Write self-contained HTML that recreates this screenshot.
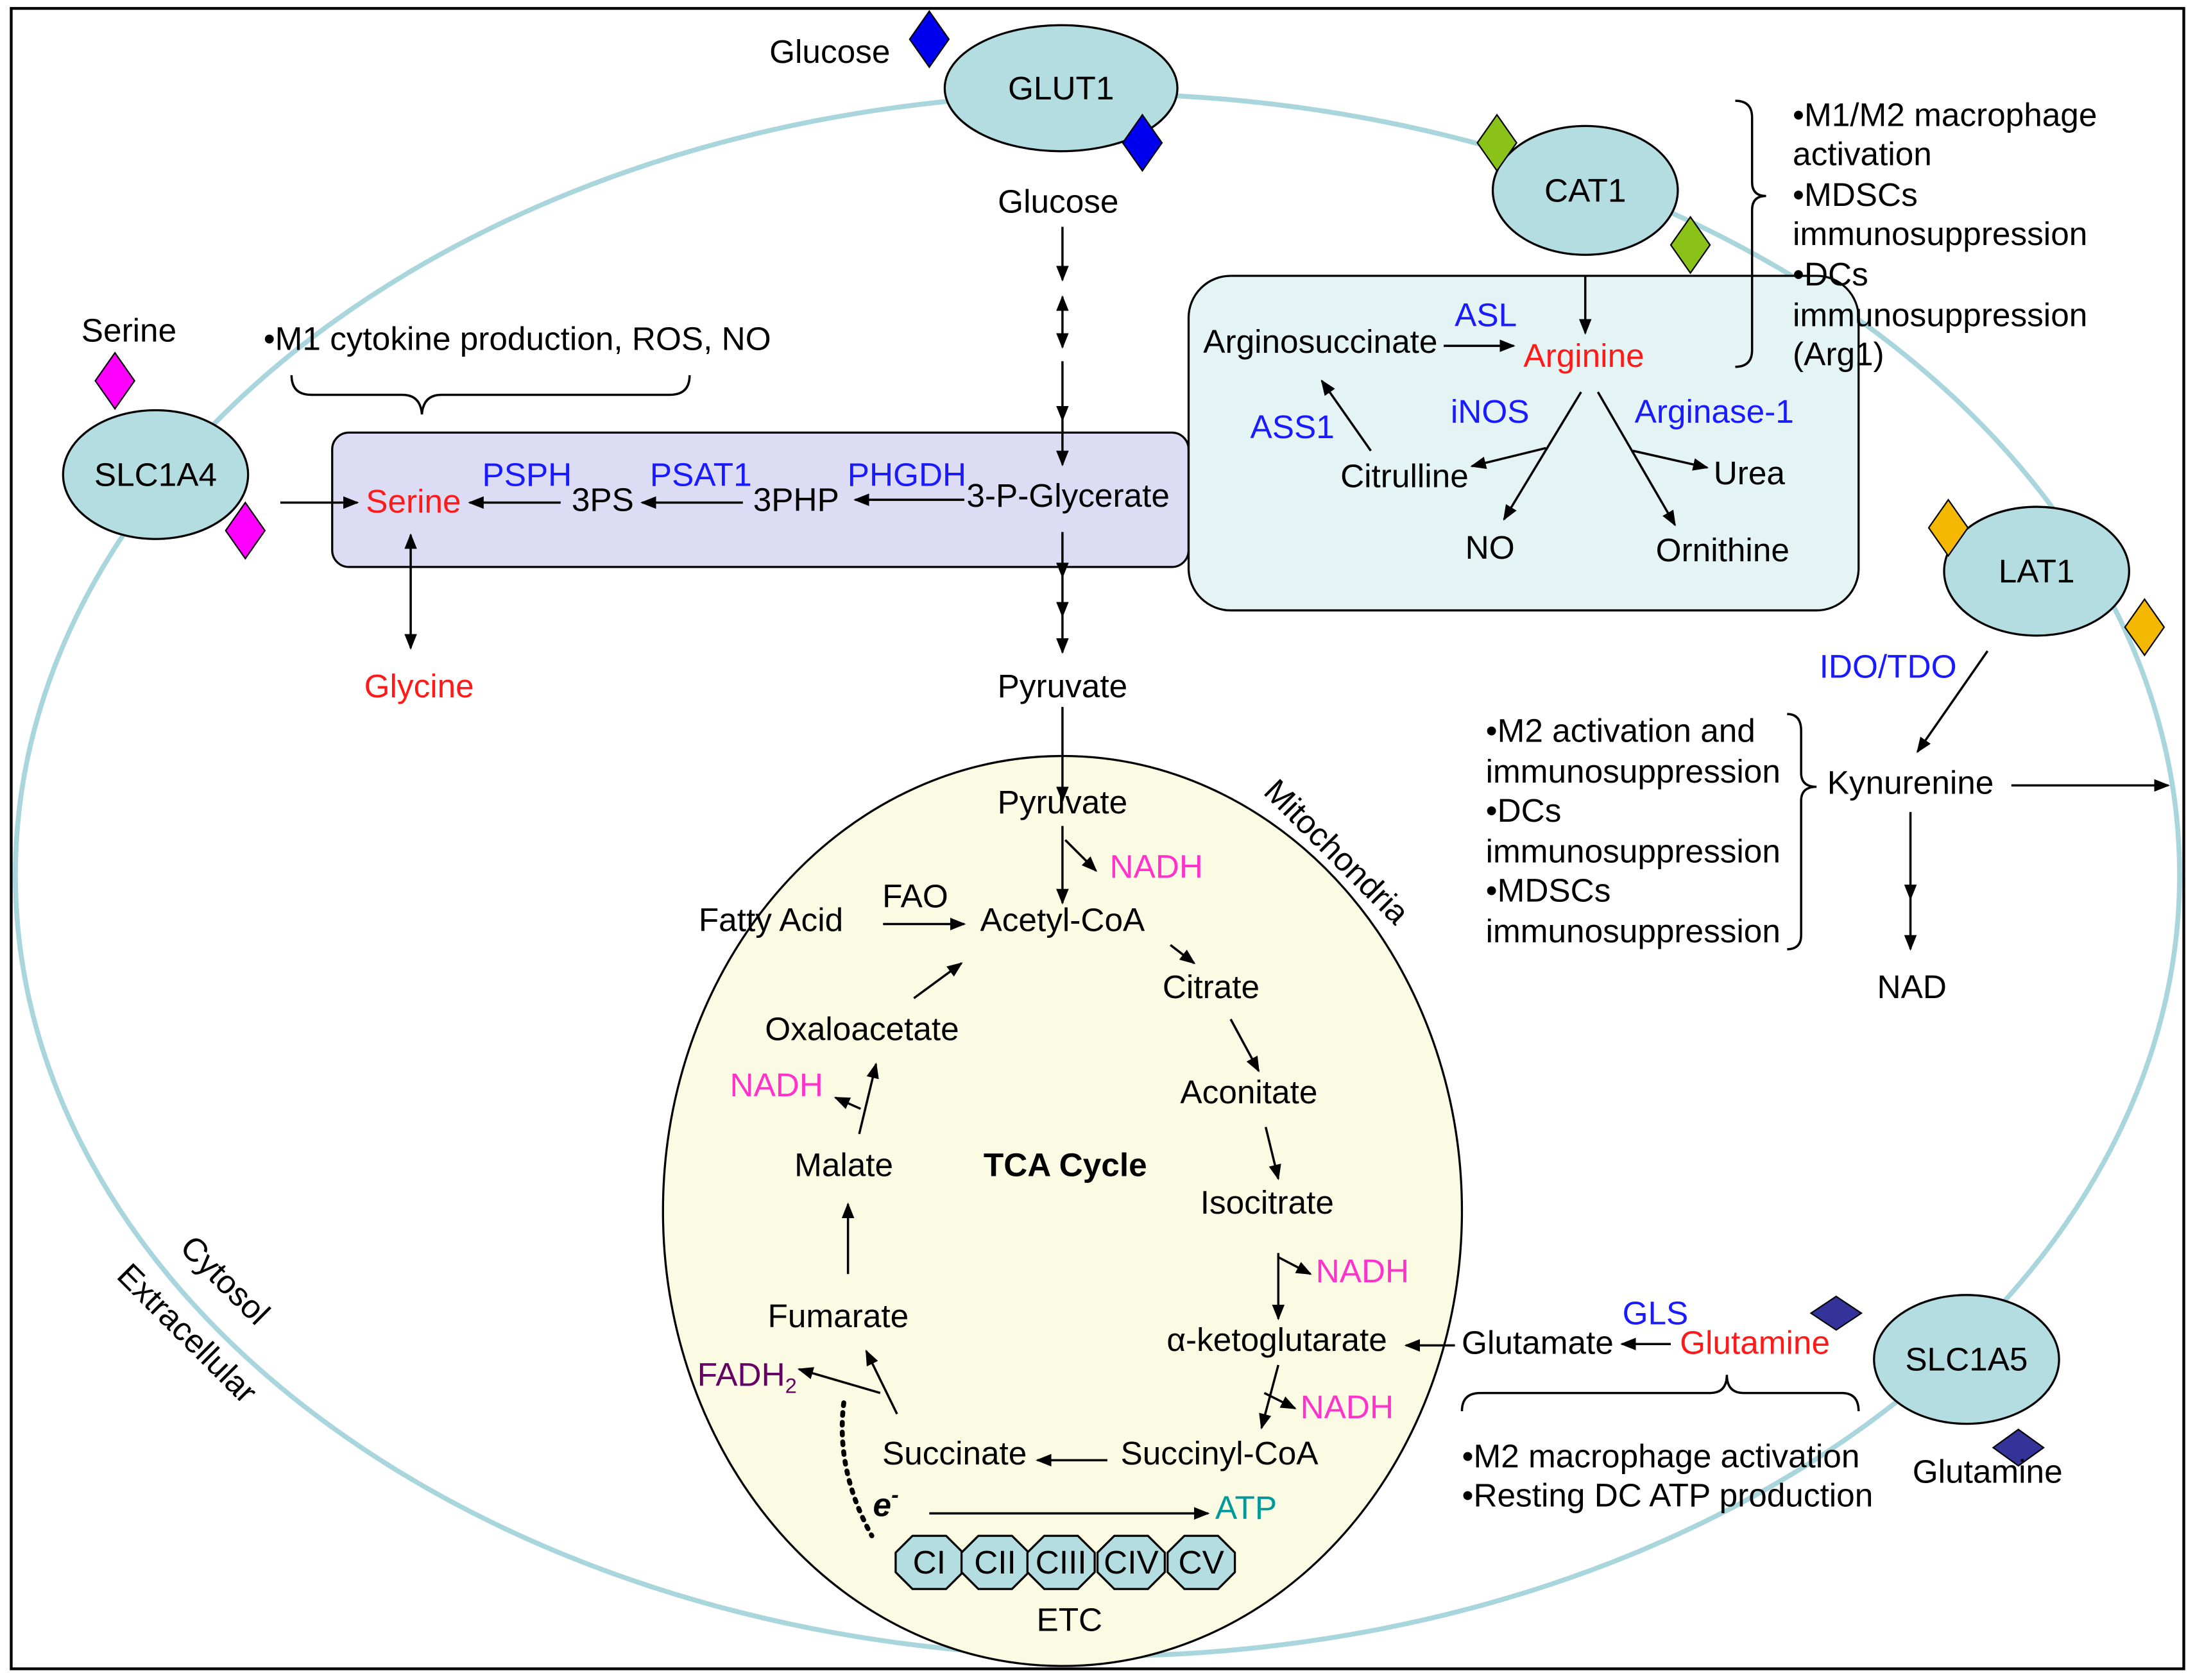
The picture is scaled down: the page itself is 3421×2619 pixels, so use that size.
<!DOCTYPE html>
<html><head><meta charset="utf-8"><style>
html,body{margin:0;padding:0;background:#fff}
svg{display:block}
text{font-family:"Liberation Sans",Arial,sans-serif;font-size:23.5px;fill:#000}
.c{text-anchor:middle}
.b{fill:#1a1aff}.r{fill:#ff1a1a}.m{fill:#ff33cc}
</style></head><body>
<svg width="3421" height="2619" viewBox="0 0 1566 1200" preserveAspectRatio="none" xmlns="http://www.w3.org/2000/svg">
<defs>
<marker id="a" viewBox="0 0 10 10" refX="9" refY="5" markerWidth="7" markerHeight="7" orient="auto-start-reverse"><path d="M0,1 L10,5 L0,9 z" fill="#000"/></marker>
</defs>
<rect x="0" y="0" width="1566" height="1200" fill="#fff"/>
<rect x="8" y="6" width="1550" height="1186" fill="none" stroke="#000" stroke-width="2"/>
<ellipse cx="783" cy="625" rx="772" ry="558" fill="none" stroke="#a8d6dc" stroke-width="3.5"/>

<rect x="237" y="309" width="611" height="96" rx="12" fill="#dcdcf5" stroke="#000" stroke-width="1.5"/>
<rect x="848" y="197" width="478" height="239" rx="30" fill="#e4f3f3" stroke="#000" stroke-width="1.5"/>
<ellipse cx="758" cy="865" rx="285" ry="325" fill="#fbfbe3" stroke="#000" stroke-width="1.5"/>

<g fill="#b3dde0" stroke="#000" stroke-width="1.5">
<ellipse cx="757" cy="63" rx="83" ry="45"/>
<ellipse cx="1131" cy="136" rx="66" ry="46"/>
<ellipse cx="111" cy="339" rx="66" ry="46"/>
<ellipse cx="1453" cy="408" rx="66" ry="46"/>
<ellipse cx="1403" cy="971" rx="66" ry="46"/>
</g>
<g stroke="#000" stroke-width="1">
<path d="M663,8 L677,28 L663,48 L649,28z" fill="#0000ee"/>
<path d="M815,82 L829,102 L815,122 L801,102z" fill="#0000ee"/>
<path d="M1068,82 L1082,102 L1068,122 L1054,102z" fill="#8bc21a"/>
<path d="M1206,155 L1220,175 L1206,195 L1192,175z" fill="#8bc21a"/>
<path d="M82,252 L96,272 L82,292 L68,272z" fill="#ff00ff"/>
<path d="M175,359 L189,379 L175,399 L161,379z" fill="#ff00ff"/>
<path d="M1390,357 L1404,377 L1390,397 L1376,377z" fill="#f5b800"/>
<path d="M1530,428 L1544,448 L1530,468 L1516,448z" fill="#f5b800"/>
<path d="M1310,926 L1328,938 L1310,950 L1292,938z" fill="#333399"/>
<path d="M1440,1021 L1458,1034 L1440,1047 L1422,1034z" fill="#333399"/>
</g>
<text class="c" x="757" y="71">GLUT1</text>
<text class="c" x="1131" y="144">CAT1</text>
<text class="c" x="111" y="347">SLC1A4</text>
<text class="c" x="1453" y="416">LAT1</text>
<text class="c" x="1403" y="979">SLC1A5</text>
<text class="c" x="592" y="45">Glucose</text>
<text class="c" x="92" y="244">Serine</text>
<text class="c" x="1418" y="1059">Glutamine</text>

<g stroke="#000" stroke-width="1.6" fill="none">
<line x1="758" y1="162" x2="758" y2="200" marker-end="url(#a)"/>
<line x1="758" y1="212" x2="758" y2="248" marker-end="url(#a)" marker-start="url(#a)"/>
<line x1="758" y1="258" x2="758" y2="300" marker-end="url(#a)"/>
<line x1="758" y1="300" x2="758" y2="332" marker-end="url(#a)"/>
<line x1="758" y1="380" x2="758" y2="412" marker-end="url(#a)"/>
<line x1="758" y1="412" x2="758" y2="440" marker-end="url(#a)"/>
<line x1="758" y1="440" x2="758" y2="466" marker-end="url(#a)"/>
<line x1="758" y1="505" x2="758" y2="572" marker-end="url(#a)"/>
<line x1="200" y1="359" x2="255" y2="359" marker-end="url(#a)"/>
<line x1="400" y1="359" x2="335" y2="359" marker-end="url(#a)"/>
<line x1="530" y1="359" x2="458" y2="359" marker-end="url(#a)"/>
<line x1="688" y1="357" x2="610" y2="357" marker-end="url(#a)"/>
<line x1="293" y1="382" x2="293" y2="463" marker-end="url(#a)" marker-start="url(#a)"/>
<path d="M208,268 Q208,282 222,282 L287,282 Q300,282 301,296 Q302,282 315,282 L478,282 Q492,282 492,268"/>
<line x1="1131" y1="197" x2="1131" y2="238" marker-end="url(#a)"/>
<line x1="1030" y1="247" x2="1080" y2="247" marker-end="url(#a)"/>
<line x1="978" y1="322" x2="943" y2="272" marker-end="url(#a)"/>
<line x1="1128" y1="280" x2="1073" y2="371" marker-end="url(#a)"/>
<line x1="1103" y1="320" x2="1050" y2="333" marker-end="url(#a)"/>
<line x1="1140" y1="280" x2="1195" y2="375" marker-end="url(#a)"/>
<line x1="1165" y1="322" x2="1218" y2="334" marker-end="url(#a)"/>
<path d="M1238,72 Q1250,72 1250,84 L1250,130 Q1250,140 1260,140 Q1250,140 1250,150 L1250,250 Q1250,262 1238,262"/>
<line x1="1418" y1="465" x2="1368" y2="537" marker-end="url(#a)"/>
<line x1="1435" y1="561" x2="1547" y2="561" marker-end="url(#a)"/>
<line x1="1363" y1="580" x2="1363" y2="642" marker-end="url(#a)"/>
<line x1="1363" y1="642" x2="1363" y2="678" marker-end="url(#a)"/>
<path d="M1275,510 Q1285,510 1285,522 L1285,552 Q1285,562 1296,562 Q1285,562 1285,572 L1285,668 Q1285,678 1275,678"/>
<line x1="758" y1="590" x2="758" y2="645" marker-end="url(#a)"/>
<polyline points="760,600 782,622" marker-end="url(#a)"/>
<line x1="630" y1="660" x2="688" y2="660" marker-end="url(#a)"/>
<line x1="835" y1="675" x2="852" y2="688" marker-end="url(#a)"/>
<line x1="878" y1="728" x2="898" y2="765" marker-end="url(#a)"/>
<line x1="903" y1="805" x2="912" y2="842" marker-end="url(#a)"/>
<line x1="912" y1="895" x2="912" y2="942" marker-end="url(#a)"/>
<polyline points="912,898 935,910" marker-end="url(#a)"/>
<line x1="1038" y1="961" x2="1003" y2="961" marker-end="url(#a)"/>
<line x1="1192" y1="960" x2="1157" y2="960" marker-end="url(#a)"/>
<line x1="912" y1="975" x2="900" y2="1020" marker-end="url(#a)"/>
<polyline points="902,995 924,1006" marker-end="url(#a)"/>
<line x1="790" y1="1043" x2="740" y2="1043" marker-end="url(#a)"/>
<line x1="640" y1="1010" x2="618" y2="965" marker-end="url(#a)"/>
<line x1="628" y1="995" x2="570" y2="978" marker-end="url(#a)"/>
<line x1="605" y1="910" x2="605" y2="860" marker-end="url(#a)"/>
<line x1="613" y1="810" x2="625" y2="760" marker-end="url(#a)"/>
<polyline points="614,792 596,784" marker-end="url(#a)"/>
<line x1="652" y1="713" x2="686" y2="688" marker-end="url(#a)"/>
<line x1="663" y1="1081" x2="862" y2="1081" marker-end="url(#a)"/>
<path d="M602,1002 Q596,1050 622,1097" stroke-width="3.5" stroke-dasharray="2,5" stroke-linecap="round"/>
<path d="M1043,1008 Q1043,995 1056,995 L1220,995 Q1232,995 1232,982 Q1232,995 1244,995 L1314,995 Q1326,995 1326,1008"/>
</g>

<g fill="#b3dde0" stroke="#000" stroke-width="1.5">
<path d="M651,1097 L675,1097 L687,1109 L687,1123 L675,1135 L651,1135 L639,1123 L639,1109z"/>
<path d="M698,1097 L722,1097 L734,1109 L734,1123 L722,1135 L698,1135 L686,1123 L686,1109z"/>
<path d="M745,1097 L769,1097 L781,1109 L781,1123 L769,1135 L745,1135 L733,1123 L733,1109z"/>
<path d="M795,1097 L819,1097 L831,1109 L831,1123 L819,1135 L795,1135 L783,1123 L783,1109z"/>
<path d="M845,1097 L869,1097 L881,1109 L881,1123 L869,1135 L845,1135 L833,1123 L833,1109z"/>
</g>
<text class="c" x="663" y="1124">CI</text>
<text class="c" x="710" y="1124">CII</text>
<text class="c" x="757" y="1124">CIII</text>
<text class="c" x="807" y="1124">CIV</text>
<text class="c" x="857" y="1124">CV</text>
<text class="c" x="763" y="1165">ETC</text>

<text class="c" x="755" y="152">Glucose</text>
<text class="c" x="762" y="362">3-P-Glycerate</text>
<text class="c" x="758" y="498">Pyruvate</text>
<text x="188" y="250">•M1 cytokine production, ROS, NO</text>
<text class="c r" x="295" y="366">Serine</text>
<text class="c b" x="376" y="347">PSPH</text>
<text class="c" x="430" y="365">3PS</text>
<text class="c b" x="500" y="347">PSAT1</text>
<text class="c" x="568" y="365">3PHP</text>
<text class="c b" x="647" y="347">PHGDH</text>
<text class="c r" x="299" y="498">Glycine</text>

<text class="c" x="942" y="252">Arginosuccinate</text>
<text class="c b" x="1060" y="233">ASL</text>
<text class="c r" x="1130" y="262">Arginine</text>
<text class="c b" x="922" y="313">ASS1</text>
<text class="c b" x="1063" y="302">iNOS</text>
<text class="c b" x="1223" y="302">Arginase-1</text>
<text class="c" x="1002" y="348">Citrulline</text>
<text class="c" x="1063" y="399">NO</text>
<text class="c" x="1248" y="346">Urea</text>
<text class="c" x="1229" y="401">Ornithine</text>

<text x="1279" y="90">•M1/M2 macrophage</text>
<text x="1279" y="118">activation</text>
<text x="1279" y="147">•MDSCs</text>
<text x="1279" y="175">immunosuppression</text>
<text x="1279" y="204">•DCs</text>
<text x="1279" y="233">immunosuppression</text>
<text x="1279" y="261">(Arg1)</text>

<text class="c b" x="1347" y="484">IDO/TDO</text>
<text class="c" x="1363" y="567">Kynurenine</text>
<text class="c" x="1364" y="713">NAD</text>
<text x="1060" y="530">•M2 activation and</text>
<text x="1060" y="559">immunosuppression</text>
<text x="1060" y="587">•DCs</text>
<text x="1060" y="616">immunosuppression</text>
<text x="1060" y="644">•MDSCs</text>
<text x="1060" y="673">immunosuppression</text>

<text class="c" x="758" y="581">Pyruvate</text>
<text class="c m" x="825" y="627">NADH</text>
<text class="c" x="550" y="665">Fatty Acid</text>
<text class="c" x="653" y="648">FAO</text>
<text class="c" x="758" y="665">Acetyl-CoA</text>
<text class="c" x="864" y="713">Citrate</text>
<text class="c" x="891" y="788">Aconitate</text>
<text class="c" x="904" y="867">Isocitrate</text>
<text class="c m" x="972" y="916">NADH</text>
<text class="c" x="911" y="965">α-ketoglutarate</text>
<text class="c" x="1097" y="967">Glutamate</text>
<text class="c b" x="1181" y="946">GLS</text>
<text class="c r" x="1252" y="967">Glutamine</text>
<text class="c m" x="961" y="1013">NADH</text>
<text class="c" x="870" y="1046">Succinyl-CoA</text>
<text class="c" x="681" y="1046">Succinate</text>
<text class="c" x="598" y="948">Fumarate</text>
<text class="c" x="533" y="990" style="fill:#660066">FADH<tspan font-size="15" dy="5">2</tspan></text>
<text class="c" x="602" y="840">Malate</text>
<text class="c m" x="554" y="783">NADH</text>
<text class="c" x="615" y="743">Oxaloacetate</text>
<text class="c" x="760" y="840" font-weight="bold">TCA Cycle</text>
<text class="c" x="948" y="614" transform="rotate(45 948 614)">Mitochondria</text>
<text class="c" x="632" y="1083" font-weight="bold" font-style="italic" font-size="28">e<tspan font-size="16" dy="-10">-</tspan></text>
<text class="c" x="889" y="1085" style="fill:#009999">ATP</text>
<text x="1043" y="1048">•M2 macrophage activation</text>
<text x="1043" y="1076">•Resting DC ATP production</text>

<text class="c" x="155" y="920" transform="rotate(45 155 920)">Cytosol</text>
<text class="c" x="128" y="958" transform="rotate(45 128 958)">Extracellular</text>
</svg>
</body></html>
